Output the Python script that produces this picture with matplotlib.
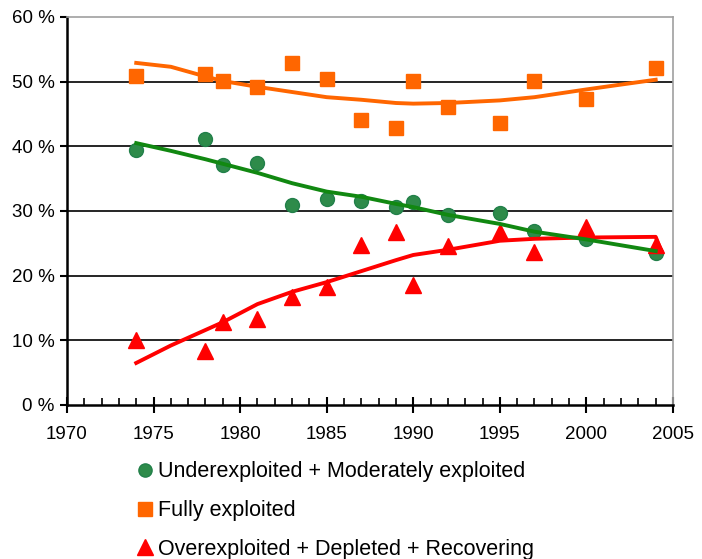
import matplotlib.pyplot as plt
from matplotlib.ticker import MultipleLocator, FuncFormatter

plt.rcParams['font.family'] = ['Liberation Sans', 'DejaVu Sans']

years = [1974, 1978, 1979, 1981, 1983, 1985, 1987, 1989, 1990, 1992, 1995, 1997, 2000, 2004]

# observed shares (%)
under_mod = [39.4, 41.1, 37.1, 37.4, 30.9, 31.8, 31.6, 30.6, 31.4, 29.4, 29.7, 26.9, 25.7, 23.5]
fully = [50.9, 51.2, 50.1, 49.1, 52.9, 50.4, 44.0, 42.8, 50.1, 46.1, 43.6, 50.1, 47.3, 52.1]
over_dep = [10.0, 8.4, 12.9, 13.3, 16.7, 18.3, 24.7, 26.8, 18.6, 24.6, 26.8, 23.6, 27.5, 24.7]

# smoothed trend lines
trend_years = [1974, 1976, 1978, 1979, 1981, 1983, 1985, 1987, 1989, 1990, 1992, 1995, 1997, 2000, 2004]
under_trend = [40.5, 39.3, 38.0, 37.3, 35.9, 34.3, 33.0, 32.2, 31.1, 30.6, 29.4, 28.0, 26.8, 25.6, 23.8]
fully_trend = [52.9, 52.3, 50.8, 50.1, 49.2, 48.4, 47.6, 47.2, 46.7, 46.6, 46.7, 47.1, 47.6, 48.8, 50.3]
over_trend_years = [1974, 1976, 1978, 1979, 1981, 1983, 1985, 1987, 1989, 1990, 1992, 1995, 1997, 2000, 2004, 2004.3]
over_trend = [6.5, 9.2, 11.6, 12.8, 15.6, 17.5, 19.0, 20.7, 22.4, 23.2, 24.0, 25.4, 25.7, 25.9, 26.0, 24.0]

labels = ['Underexploited + Moderately exploited', 'Fully exploited',
          'Overexploited + Depleted + Recovering']

fig = plt.figure(figsize=(7.02, 5.59), dpi=100)
ax = fig.add_axes([0.0954, 0.2755, 0.8633, 0.6941])

for y in range(10, 60, 10):
    ax.axhline(y, color='black', lw=1.2, zorder=1)

h1, = ax.plot(years, under_mod, 'o', color='#2e8b4a', mec='#22804a', ms=10, zorder=3, label=labels[0])
h2, = ax.plot(years, fully, 's', color='#ff6600', mec='#ff6600', ms=10.5, zorder=3, label=labels[1])
h3, = ax.plot(years, over_dep, '^', color='#ff0000', mec='#ff0000', ms=12, zorder=3, label=labels[2])

ax.plot(trend_years, fully_trend, '-', color='#ff6600', lw=2.8, zorder=4)
ax.plot(over_trend_years, over_trend, '-', color='#ff0000', lw=2.8, zorder=4)
ax.plot(trend_years, under_trend, '-', color='#118811', lw=2.8, zorder=5)

ax.set_xlim(1970, 2005)
ax.set_ylim(0, 60)
ax.xaxis.set_major_locator(MultipleLocator(5))
ax.xaxis.set_minor_locator(MultipleLocator(1))
ax.yaxis.set_major_locator(MultipleLocator(10))
ax.yaxis.set_major_formatter(FuncFormatter(lambda v, p: '%d %%' % v))

ax.tick_params(axis='x', which='major', direction='inout', length=12, width=1.5, labelsize=13.5, pad=9)
ax.tick_params(axis='x', which='minor', direction='in', length=5, width=1.2)
ax.tick_params(axis='y', which='major', direction='out', length=5, width=1.5, labelsize=13.5, pad=4)

for s in ['left', 'bottom']:
    ax.spines[s].set_color('black')
    ax.spines[s].set_linewidth(1.8)
for s in ['top', 'right']:
    ax.spines[s].set_color('#a0a0a0')
    ax.spines[s].set_linewidth(1.2)

fig.legend(handles=[h1, h2, h3], loc='upper left', bbox_to_anchor=(0.185, 0.19),
           frameon=False, fontsize=15.5, handlelength=0.6, handletextpad=0.3,
           labelspacing=0.82, borderaxespad=0, markerscale=0.95)

fig.savefig('out.png', dpi=100)
